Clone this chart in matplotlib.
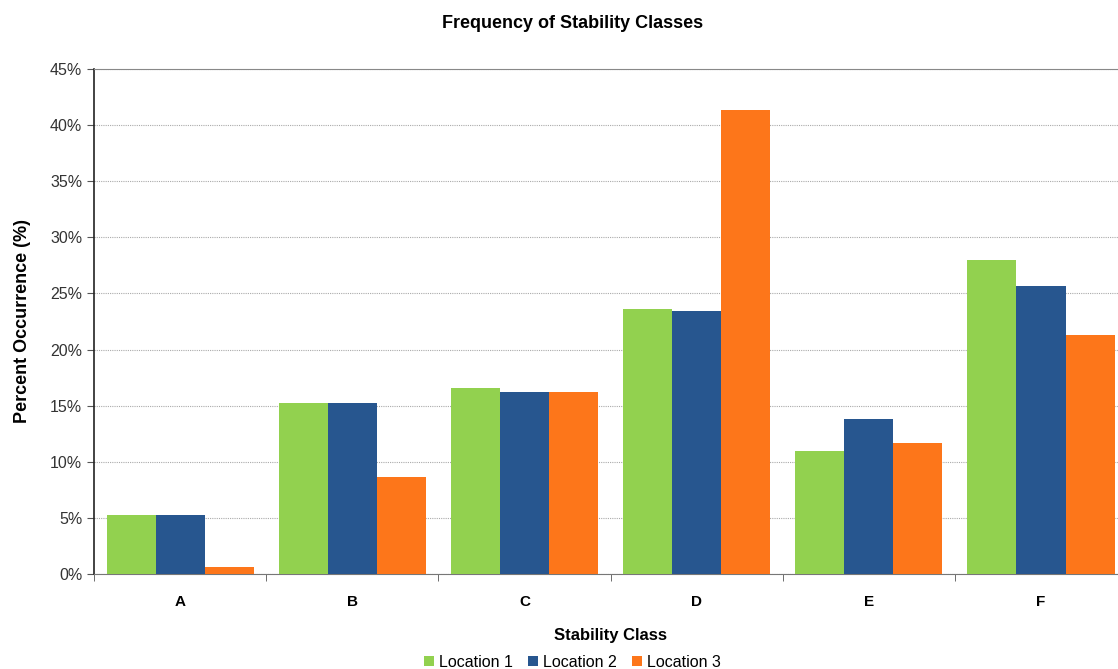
import numpy as np
import matplotlib as mpl
import matplotlib.pyplot as plt
from matplotlib.ticker import FuncFormatter
mpl.use("Agg")

plt.rcParams['font.family'] = ['Liberation Sans', 'DejaVu Sans']

classes = ["A", "B", "C", "D", "E", "F"]
loc1 = [5.3, 15.2, 16.6, 23.6, 11.0, 28.0]
loc2 = [5.3, 15.2, 16.2, 23.4, 13.8, 25.7]
loc3 = [0.6, 8.6, 16.2, 41.3, 11.7, 21.3]
names = ["Location 1", "Location 2", "Location 3"]
colors = ["#92d14f", "#27568f", "#fd761a"]

fig = plt.figure(figsize=(11.18, 6.69), dpi=100)
ax = fig.add_axes([0.0841, 0.142, 0.924, 0.755])

x = np.arange(len(classes))
w = 0.285
for i, (vals, c, name) in enumerate(zip([loc1, loc2, loc3], colors, names)):
    ax.bar(x + (i - 1) * w, vals, width=w, color=c, label=name, zorder=3)

ax.set_xlim(-0.5, len(classes) - 0.5)
ax.set_ylim(0, 45)
ax.set_yticks(np.arange(0, 46, 5))
ax.yaxis.set_major_formatter(FuncFormatter(lambda v, p: f"{v:.0f}%"))
ax.set_xticks(x)
ax.set_xticklabels(classes, fontweight="bold", fontsize=11)
ax.set_xticks(np.arange(-0.5, len(classes), 1), minor=True)
ax.tick_params(axis="x", which="major", length=0, pad=15)
ax.tick_params(axis="x", which="minor", length=5, color="#555555")
ax.tick_params(axis="y", length=5, color="#555555", labelsize=11.5, labelcolor="#333333")

ax.grid(axis="y", linestyle=(0, (1, 1)), color="#aaaaaa", linewidth=0.8, zorder=0)
ax.spines["left"].set_color("#222222")
ax.spines["left"].set_linewidth(1.2)
ax.spines["bottom"].set_color("#777777")
ax.spines["top"].set_color("#888888")
ax.spines["right"].set_visible(False)

ax.set_ylabel("Percent Occurrence (%)", fontweight="bold", fontsize=13, labelpad=14)
ax.set_xlabel("Stability Class", fontweight="bold", fontsize=12, labelpad=14)
fig.text(0.5125, 0.965, "Frequency of Stability Classes", ha="center", va="center",
         fontweight="bold", fontsize=13)

fig.legend(loc="center", bbox_to_anchor=(0.512, 0.01), ncol=3, frameon=False,
           fontsize=11.5, handlelength=0.6, handleheight=0.6, handletextpad=0.3,
           columnspacing=1.0)

plt.savefig("out.png", dpi=100)
